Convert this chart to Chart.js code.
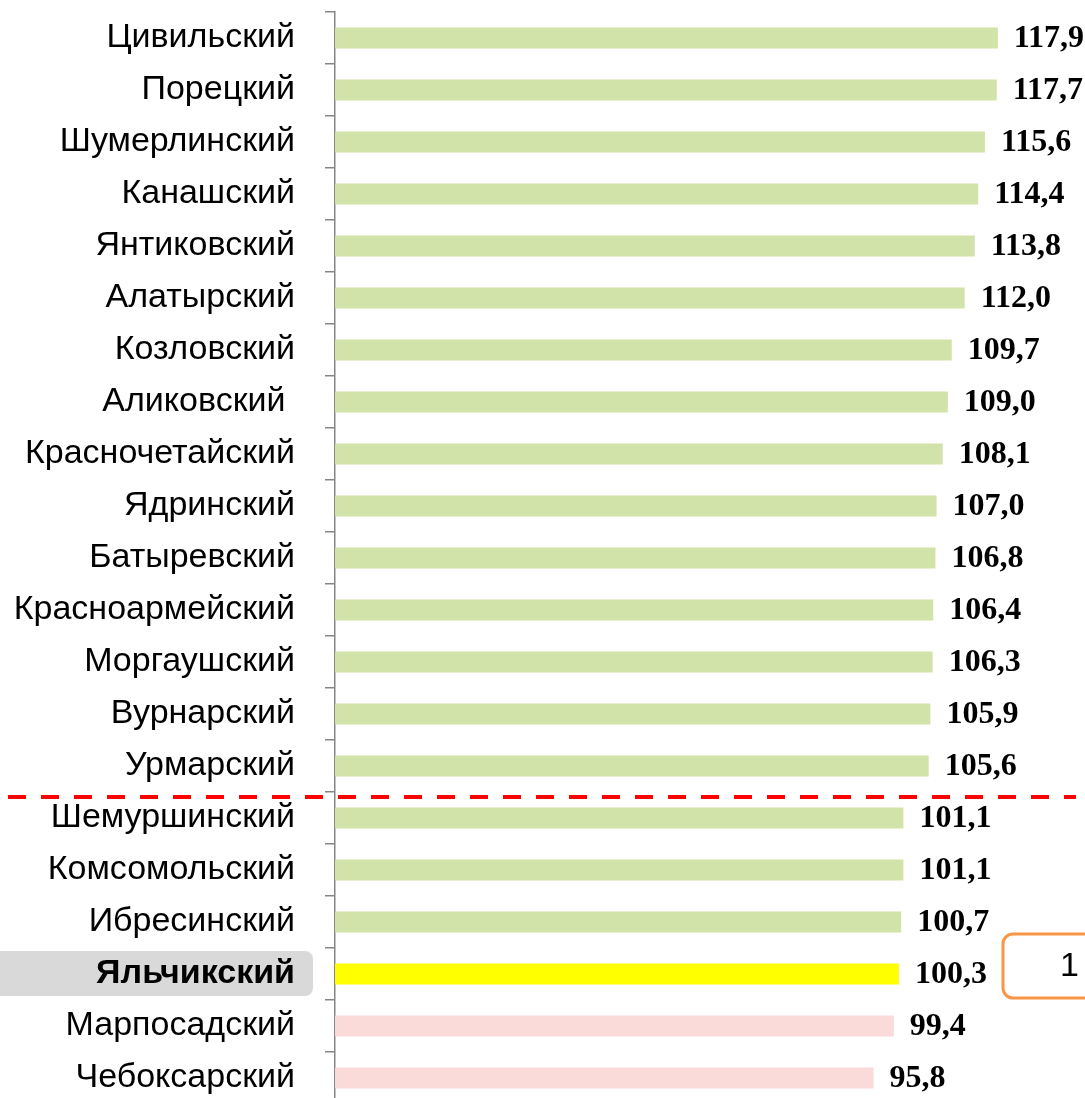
<!DOCTYPE html>
<html>
<head>
<meta charset="utf-8">
<script src="https://cdn.jsdelivr.net/npm/chart.js@4"></script>
<style>
  html, body { margin: 0; padding: 0; background: #fff; overflow: hidden; }
  #wrap { width: 1085px; height: 1110px; position: relative; }
</style>
</head>
<body>
<div id="wrap"><canvas id="rankChart"></canvas></div>
<script>
// districts, top to bottom
const districts = ['Цивильский', 'Порецкий', 'Шумерлинский', 'Канашский', 'Янтиковский',
  'Алатырский', 'Козловский', 'Аликовский ', 'Красночетайский', 'Ядринский', 'Батыревский',
  'Красноармейский', 'Моргаушский', 'Вурнарский', 'Урмарский', 'Шемуршинский',
  'Комсомольский', 'Ибресинский', 'Яльчикский', 'Марпосадский', 'Чебоксарский'];

const values = [117.9, 117.7, 115.6, 114.4, 113.8, 112.0, 109.7, 109.0, 108.1, 107.0, 106.8,
  106.4, 106.3, 105.9, 105.6, 101.1, 101.1, 100.7, 100.3, 99.4, 95.8];

const highlight = 'Яльчикский';
const rankText = '1';
const splitAfter = 14; // dashed line under Урмарский

const GREEN = '#d2e3a9';
const PINK = '#fadbd9';
const YELLOW = '#ffff00';

const barColors = values.map((v, i) =>
  districts[i] === highlight ? YELLOW : (v < 100 ? PINK : GREEN));

const fmt = v => v.toFixed(1).replace('.', ',');

// grey box behind the highlighted label, red split line, rank box, value labels
const extras = {
  id: 'extras',
  beforeDraw(chart) {
    const c = chart.ctx;
    const y = chart.scales.y;
    const idx = districts.indexOf(highlight);
    const cy = y.getPixelForValue(idx);
    c.save();
    c.fillStyle = '#d9d9d9';
    c.beginPath();
    c.roundRect(-10, cy - 23, 323, 45, 8);
    c.fill();
    c.restore();
  },
  afterDatasetsDraw(chart) {
    const c = chart.ctx;
    const meta = chart.getDatasetMeta(0);
    c.save();
    c.font = 'bold 32px "Liberation Serif", "Times New Roman", serif';
    c.fillStyle = '#000';
    c.textBaseline = 'middle';
    c.textAlign = 'left';
    meta.data.forEach((bar, i) => {
      c.fillText(fmt(values[i]), bar.x + 16, bar.y + 1);
    });

    // split line
    const y = chart.scales.y;
    const ly = (y.getPixelForValue(splitAfter) + y.getPixelForValue(splitAfter + 1)) / 2 + 5;
    c.strokeStyle = '#ff0000';
    c.lineWidth = 4;
    c.setLineDash([18, 15]);
    c.beginPath();
    c.moveTo(8, ly);
    c.lineTo(1076, ly);
    c.stroke();
    c.setLineDash([]);

    // rank box
    const idx = districts.indexOf(highlight);
    const cy = y.getPixelForValue(idx);
    c.strokeStyle = '#f79646';
    c.lineWidth = 3;
    c.beginPath();
    c.roundRect(1003, cy - 40, 110, 64, 10);
    c.stroke();
    c.font = '34px "Liberation Sans", Arial, sans-serif';
    c.fillStyle = '#000';
    c.textAlign = 'left';
    c.fillText(rankText, 1060, cy - 7);
    c.restore();
  }
};

new Chart(document.getElementById('rankChart'), {
  type: 'bar',
  data: {
    labels: districts,
    datasets: [{
      data: values,
      backgroundColor: barColors,
      borderWidth: 0,
      categoryPercentage: 1,
      barPercentage: 0.4
    }]
  },
  options: {
    indexAxis: 'y',
    responsive: true,
    maintainAspectRatio: false,
    animation: false,
    layout: { padding: { top: 12, bottom: 6, left: 0, right: 0 } },
    plugins: { legend: { display: false }, tooltip: { enabled: false } },
    scales: {
      x: {
        min: 0,
        max: 133.4,
        display: false
      },
      y: {
        afterFit(scale) {
          scale.width = 335;
          scale.paddingTop = 0;
          scale.paddingBottom = 0;
        },
        border: { display: true, color: '#868686', width: 1.5 },
        grid: {
          drawOnChartArea: false,
          drawTicks: true,
          tickLength: 10,
          color: '#868686',
          lineWidth: 1.5,
          offset: true
        },
        ticks: {
          padding: 30,
          color: '#000',
          font: ctx => ({
            family: '"Liberation Sans", Arial, sans-serif',
            size: 34,
            weight: districts[ctx.index] === highlight ? 'bold' : 'normal'
          })
        }
      }
    }
  },
  plugins: [extras]
});
</script>
</body>
</html>
